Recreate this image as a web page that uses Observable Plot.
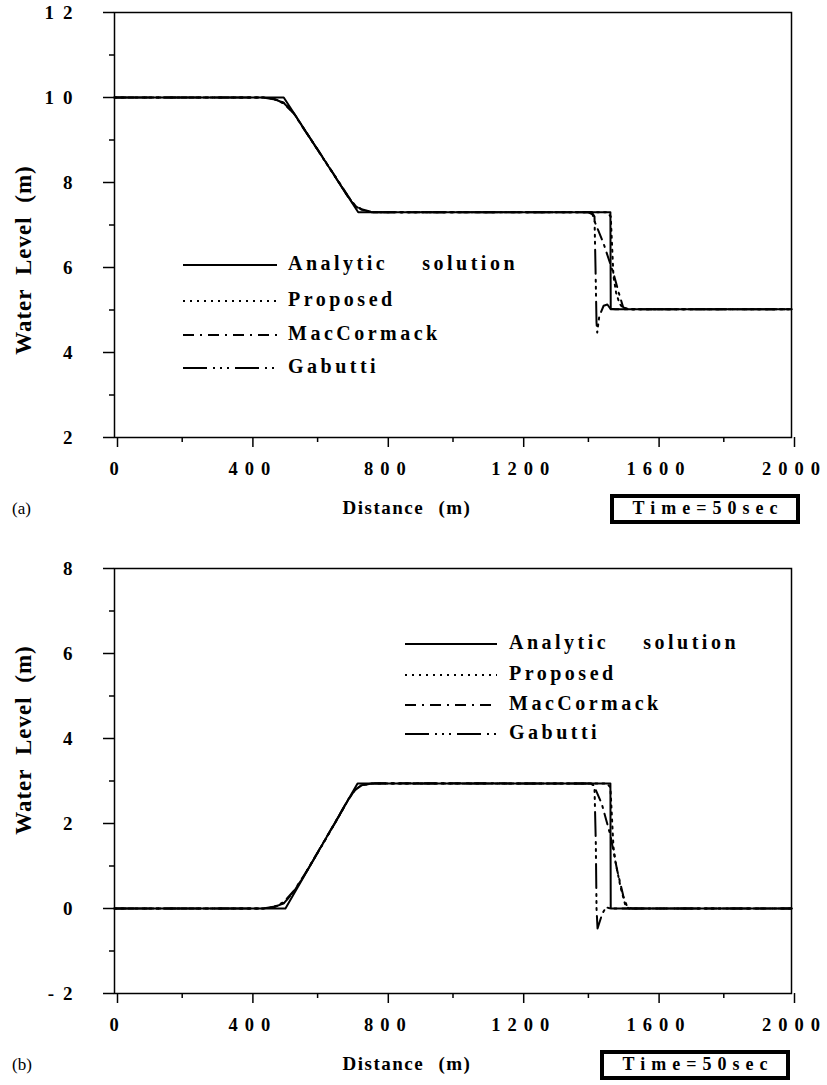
<!DOCTYPE html>
<html>
<head>
<meta charset="utf-8">
<script src="https://cdn.jsdelivr.net/npm/d3@7"></script>
<script src="https://cdn.jsdelivr.net/npm/@observablehq/plot@0.6"></script>
<style>
  html, body { margin: 0; padding: 0; background: #fff; }
  #wrap { position: relative; width: 827px; height: 1085px; overflow: hidden; font-family: "Liberation Serif", "Times New Roman", serif; }
  .panel { position: absolute; left: 0; width: 827px; }
  .panel svg { position: absolute; left: 0; top: 0; }
  .panel svg.plot text { font-family: "Liberation Serif", serif; font-weight: bold; font-size: 19px; fill: #000; }
  .panel svg.plot [aria-label="x-axis tick label"] text { letter-spacing: 7px; font-size: 18.5px; }
  .panel svg.plot [aria-label="y-axis tick label"] text { letter-spacing: 9px; }
  .overlay text { font-family: "Liberation Serif", serif; fill: #000; }
</style>
</head>
<body>
<div id="wrap"></div>
<script>
// ---------- tick values ----------
const xTicks = [0, 400, 800, 1200, 1600, 2000];
const xMinor = [200, 600, 1000, 1400, 1800];
const yTicksA = [2, 4, 6, 8, 10, 12];
const yMinorA = [3, 5, 7, 9, 11];
const yTicksB = [-2, 0, 2, 4, 6, 8];
const yMinorB = [-1, 1, 3, 5, 7];

// ---------- legend ----------
const seriesNames = ["Analytic    solution", "Proposed", "MacCormack", "Gabutti"];
const timeLabel = "Time=50sec";

// ---------- panel (a) data: [distance m, water level m] ----------
const analyticA = [[0,10],[500,10],[720,7.3],[1465,7.3],[1466,5.02],[2000,5.02]];
const proposedA = [[0,10],[440,10],[470,9.97],[500,9.88],[530,9.63],[560,9.26],[600,8.77],[650,8.16],[690,7.67],[710,7.46],[730,7.36],[760,7.3],[1455,7.3],[1466,7.2],[1470,6.5],[1474,5.8],[1482,5.4],[1492,5.15],[1502,5.05],[1515,5.02],[2000,5.02]];
const macCormackA = [[0,10],[440,10],[470,9.96],[500,9.86],[530,9.62],[560,9.25],[600,8.78],[650,8.17],[690,7.68],[710,7.47],[730,7.37],[765,7.3],[1400,7.3],[1412,7.25],[1420,7.05],[1445,6.56],[1474,5.86],[1490,5.4],[1503,5.06],[1520,5.02],[2000,5.02]];
const gabuttiA = [[0,10],[440,10],[470,9.97],[500,9.87],[530,9.63],[560,9.26],[600,8.77],[650,8.16],[690,7.66],[710,7.45],[730,7.36],[760,7.3],[1410,7.3],[1418,7.2],[1421,6.0],[1424,4.7],[1426,4.47],[1432,4.85],[1445,5.1],[1456,5.13],[1465,5.03],[1480,5.02],[2000,5.02]];

// ---------- panel (b) data ----------
const analyticB = [[0,0],[505,0],[718,2.94],[1465,2.94],[1466,0],[2000,0]];
const proposedB = [[0,0],[440,0],[470,0.03],[500,0.13],[530,0.4],[560,0.77],[600,1.31],[650,1.99],[690,2.55],[710,2.78],[730,2.9],[760,2.94],[1455,2.94],[1465,2.85],[1474,1.45],[1480,1.1],[1495,0.5],[1510,0.05],[1520,0],[2000,0]];
const macCormackB = [[0,0],[440,0],[470,0.04],[500,0.15],[530,0.42],[560,0.78],[600,1.32],[650,2.0],[690,2.56],[710,2.79],[730,2.9],[765,2.95],[1405,2.94],[1416,2.9],[1440,2.45],[1465,1.72],[1485,0.9],[1503,0.3],[1515,0.03],[1530,0],[2000,0]];
const gabuttiB = [[0,0],[440,0],[470,0.03],[500,0.12],[530,0.4],[560,0.77],[600,1.31],[650,1.99],[690,2.55],[710,2.78],[730,2.9],[760,2.94],[1410,2.94],[1418,2.85],[1422,1.5],[1424,0.0],[1427,-0.47],[1441,-0.12],[1452,0.03],[1465,0],[2000,0]];

// ---------- styles ----------
const dashes = [null, "2,5", "11,6,2,6", "24,6,2,5,2,5,2,6"];

function makePanel(opts) {
  const {top, height, marginBottom, yDomain, yTicks, yMinor, series, tag, ylabelY, legend, boxX} = opts;
  const div = document.createElement("div");
  div.className = "panel";
  div.style.top = top + "px";
  div.style.height = height + "px";
  document.getElementById("wrap").appendChild(div);

  const order = [1, 2, 3, 0];
  const lineMarks = order.map(i => Plot.line(series[i], {
    x: d => d[0], y: d => d[1], stroke: "black", strokeWidth: 2,
    strokeDasharray: dashes[i], strokeLinejoin: "round"
  }));

  const chart = Plot.plot({
    width: 827, height,
    marginLeft: 114, marginRight: 36, marginTop: 12, marginBottom,
    x: {domain: [0, 2000]},
    y: {domain: yDomain},
    style: {background: "white", overflow: "visible"},
    marks: [
      Plot.frame({stroke: "black", strokeWidth: 1.5}),
      Plot.axisX({ticks: xTicks, tickSize: 10, tickPadding: 14, tickFormat: d => String(d), label: null, dx: 3, strokeWidth: 1.5}),
      Plot.axisX({ticks: xMinor, tickSize: 5, tickFormat: () => "", label: null, strokeWidth: 1.5}),
      Plot.axisY({ticks: yTicks, tickSize: 11, tickPadding: 22, tickFormat: d => String(d), label: null, strokeWidth: 1.5}),
      Plot.axisY({ticks: yMinor, tickSize: 5, tickFormat: () => "", label: null, strokeWidth: 1.5}),
      ...lineMarks
    ]
  });
  chart.classList.add("plot");
  div.appendChild(chart);

  // overlay: axis titles, legend, tags
  const svg = d3.select(div).append("svg")
    .attr("class", "overlay")
    .attr("width", 827).attr("height", height);

  svg.append("text")
    .attr("transform", `translate(31,${ylabelY}) rotate(-90)`)
    .attr("text-anchor", "middle")
    .style("font-size", "23px").style("font-weight", "bold")
    .style("letter-spacing", "1px").style("word-spacing", "7px")
    .text("Water Level (m)");

  svg.append("text")
    .attr("x", 407).attr("y", 510)
    .attr("text-anchor", "middle").attr("dominant-baseline", "middle")
    .style("font-size", "19px").style("font-weight", "bold")
    .style("letter-spacing", "1.5px").style("word-spacing", "8px")
    .text("Distance (m)");

  svg.append("text")
    .attr("x", 12).attr("y", 510)
    .attr("dominant-baseline", "middle")
    .style("font-size", "17px")
    .text(tag);

  svg.append("rect")
    .attr("x", boxX).attr("y", 496).attr("width", 186).attr("height", 26)
    .attr("fill", "white").attr("stroke", "black").attr("stroke-width", 4);
  svg.append("text")
    .attr("x", boxX + 93 + 3).attr("y", 510)
    .attr("text-anchor", "middle").attr("dominant-baseline", "middle")
    .style("font-size", "18px").style("font-weight", "bold")
    .style("letter-spacing", "6px")
    .text(timeLabel);

  const {x0, x1, tx, rows} = legend;
  seriesNames.forEach((name, i) => {
    svg.append("line")
      .attr("x1", x0).attr("x2", x1).attr("y1", rows[i]).attr("y2", rows[i])
      .attr("stroke", "black").attr("stroke-width", 2)
      .attr("stroke-dasharray", dashes[i]);
    svg.append("text")
      .attr("x", tx).attr("y", rows[i])
      .attr("dominant-baseline", "middle")
      .attr("xml:space", "preserve")
      .style("white-space", "pre")
      .style("font-size", "20px").style("font-weight", "bold")
      .style("letter-spacing", "3.5px")
      .text(name);
  });
}

makePanel({
  top: 0, height: 556, marginBottom: 119,
  yDomain: [2, 12], yTicks: yTicksA, yMinor: yMinorA,
  series: [analyticA, proposedA, macCormackA, gabuttiA],
  tag: "(a)", ylabelY: 260, boxX: 612,
  legend: {x0: 183, x1: 277, tx: 288, rows: [265, 301, 335, 368]}
});

makePanel({
  top: 556, height: 529, marginBottom: 92,
  yDomain: [-2, 8], yTicks: yTicksB, yMinor: yMinorB,
  series: [analyticB, proposedB, macCormackB, gabuttiB],
  tag: "(b)", ylabelY: 184, boxX: 602,
  legend: {x0: 405, x1: 497, tx: 509, rows: [88, 119, 149, 178]}
});
</script>
</body>
</html>
